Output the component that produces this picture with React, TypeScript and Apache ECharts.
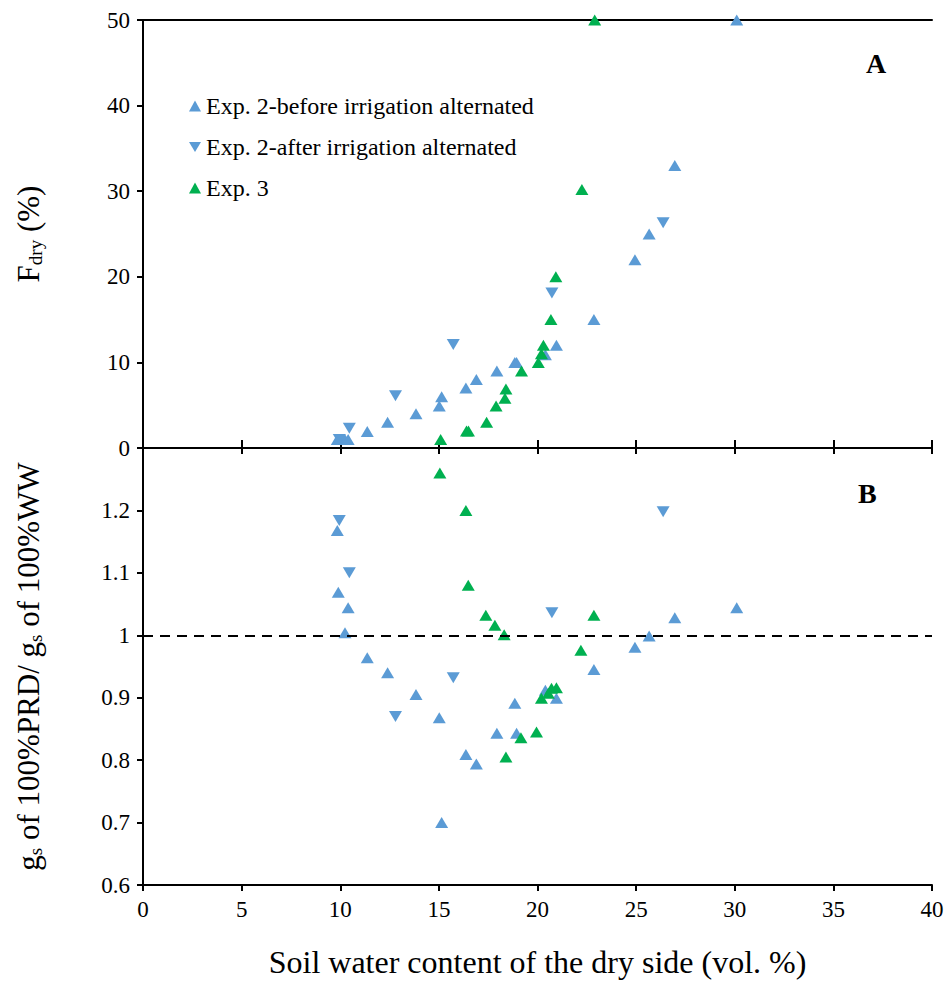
import React, { useEffect, useRef } from "react";
import * as echarts from "echarts";

// ---- Data ----
// Panel A: F_dry (%) vs soil water content of dry side
const beforeX = [9.85, 9.9, 10.24, 10.4, 11.37, 12.4, 13.84, 15.02, 15.14, 16.37, 16.9, 17.94, 18.85, 18.94, 20.4, 20.96, 22.86, 24.94, 25.66, 26.96, 30.1];
const beforeA = [1.0, 1.0, 1.0, 1.0, 1.94, 3.0, 4.0, 4.9, 6.0, 7.0, 8.0, 9.0, 10.0, 10.0, 10.9, 12.0, 15.0, 22.0, 25.0, 33.0, 50.0];
const beforeB = [1.168, 1.069, 1.004, 1.044, 0.964, 0.94, 0.905, 0.868, 0.7, 0.809, 0.794, 0.843, 0.891, 0.843, 0.912, 0.899, 0.945, 0.981, 0.999, 1.028, 1.044];

const afterX = [9.95, 10.46, 12.8, 15.73, 20.73, 26.37];
const afterA = [1.0, 2.3, 6.1, 12.1, 18.1, 26.3];
const afterB = [1.184, 1.1, 0.87, 0.932, 1.036, 1.198];

const exp3XA = [15.09, 16.4, 16.5, 17.42, 17.9, 18.35, 18.4, 19.19, 20.04, 20.2, 20.3, 20.68, 20.93, 22.25, 22.9];
const exp3A = [1.0, 2.0, 2.0, 3.0, 4.9, 5.8, 6.9, 9.0, 10.0, 11.0, 12.0, 15.0, 20.0, 30.2, 50.0];
const exp3XB = [15.05, 16.37, 16.49, 17.38, 17.84, 18.31, 18.4, 19.16, 19.95, 20.2, 20.55, 20.71, 20.96, 22.2, 22.86];
const exp3B = [1.26, 1.2, 1.08, 1.032, 1.016, 1.001, 0.805, 0.836, 0.845, 0.899, 0.907, 0.915, 0.916, 0.976, 1.032];

const seriesNames = ["Exp. 2-before irrigation alternated", "Exp. 2-after irrigation alternated", "Exp. 3"];
const refLineB = 1;

const BLUE = "#5B9BD5";
const GREEN = "#00B050";
const FONT = "Liberation Serif";
const DOWN = "path://M0,0L12,0L6,10Z";

const zip = (xs: number[], ys: number[]) => xs.map((x, i) => [x, ys[i]]);

export default function App() {
  const ref = useRef<HTMLDivElement>(null);
  useEffect(() => {
    if (!ref.current) return;
    const chart = echarts.init(ref.current, null, { renderer: "svg" });
    const axisLine = { show: true, lineStyle: { color: "#000", width: 2 } };
    const label = { color: "#000", fontFamily: FONT, fontSize: 23 };
    const titleRich = {
      m: { color: "#000", fontFamily: FONT, fontSize: 31, lineHeight: 36 },
      s: { color: "#000", fontFamily: FONT, fontSize: 19, lineHeight: 36, padding: [14, 0, 0, 0] },
    };
    const mk = (name: string, data: number[][], color: string, symbol: string, idx: number) => ({
      type: "scatter",
      name,
      xAxisIndex: idx,
      yAxisIndex: idx,
      data,
      symbol,
      symbolSize: [13, 11],
      clip: false,
      itemStyle: { color, opacity: 1 },
      emphasis: { disabled: true },
    });
    const option: any = {
      animation: false,
      backgroundColor: "#fff",
      grid: [
        { left: 143, right: 18, top: 20, height: 428 },
        { left: 143, right: 18, top: 448, height: 437 },
      ],
      legend: {
        orient: "vertical",
        left: 184,
        top: 89,
        itemWidth: 12,
        itemHeight: 11,
        itemGap: 17,
        textStyle: { color: "#000", fontFamily: FONT, fontSize: 24 },
        data: [
          { name: seriesNames[0], icon: "triangle", itemStyle: { color: BLUE } },
          { name: seriesNames[1], icon: DOWN, itemStyle: { color: BLUE } },
          { name: seriesNames[2], icon: "triangle", itemStyle: { color: GREEN } },
        ],
        selectedMode: false,
      },
      xAxis: [
        {
          type: "value", gridIndex: 0, min: 0, max: 40, interval: 5, position: "bottom",
          axisLine, axisTick: { show: true, inside: true, length: 8, lineStyle: { color: "#000", width: 2 } },
          axisLabel: { show: false }, splitLine: { show: false },
        },
        {
          type: "value", gridIndex: 1, min: 0, max: 40, interval: 5, position: "bottom",
          axisLine, axisTick: { show: true, inside: false, length: 6, lineStyle: { color: "#000", width: 2 } },
          axisLabel: { ...label, margin: 13 }, splitLine: { show: false },
          name: "Soil water content of the dry side (vol. %)",
          nameLocation: "middle", nameGap: 61,
          nameTextStyle: { color: "#000", fontFamily: FONT, fontSize: 32 },
        },
        {
          type: "value", gridIndex: 1, min: 0, max: 40, interval: 5, position: "top",
          axisLine, axisTick: { show: true, inside: true, length: 6, lineStyle: { color: "#000", width: 2 } },
          axisLabel: { show: false }, splitLine: { show: false },
        },
        {
          type: "value", gridIndex: 0, min: 0, max: 40, interval: 5, position: "top",
          axisLine, axisTick: { show: false }, axisLabel: { show: false }, splitLine: { show: false },
        },
      ],
      yAxis: [
        {
          type: "value", gridIndex: 0, min: 0, max: 50, interval: 10,
          axisLine, axisTick: { show: true, inside: false, length: 6, lineStyle: { color: "#000", width: 2 } },
          axisLabel: { ...label, margin: 13 }, splitLine: { show: false },
          name: "{m|F}{s|dry}{m| (%)}", nameLocation: "middle", nameRotate: 90, nameGap: 97,
          nameTextStyle: { color: "#000", fontFamily: FONT, fontSize: 31, rich: titleRich },
        },
        {
          type: "value", gridIndex: 1, min: 0.6, max: 1.3, interval: 0.1,
          axisLine, axisTick: { show: true, inside: false, length: 6, lineStyle: { color: "#000", width: 2 } },
          axisLabel: { ...label, margin: 13, formatter: (v: number) => (v > 1.25 ? "" : String(Math.round(v * 10) / 10)) },
          splitLine: { show: false },
          name: "{m|g}{s|s}{m| of 100%PRD/ g}{s|s}{m| of 100%WW}", nameLocation: "middle", nameRotate: 90, nameGap: 97,
          nameTextStyle: { color: "#000", fontFamily: FONT, fontSize: 31, rich: titleRich },
        },
      ],
      graphic: [
        { type: "text", left: 866, top: 49, style: { text: "A", fontFamily: FONT, fontSize: 28, fontWeight: "bold", fill: "#000" } },
        { type: "text", left: 858, top: 479, style: { text: "B", fontFamily: FONT, fontSize: 28, fontWeight: "bold", fill: "#000" } },
      ],
      series: [
        mk(seriesNames[0], zip(beforeX, beforeA), BLUE, "triangle", 0),
        mk(seriesNames[1], zip(afterX, afterA), BLUE, DOWN, 0),
        mk(seriesNames[2], zip(exp3XA, exp3A), GREEN, "triangle", 0),
        {
          ...mk(seriesNames[0], zip(beforeX, beforeB), BLUE, "triangle", 1),
          markLine: {
            silent: true, symbol: "none", label: { show: false },
            lineStyle: { color: "#000", width: 2, type: [10, 7] },
            data: [{ yAxis: refLineB }],
          },
        },
        mk(seriesNames[1], zip(afterX, afterB), BLUE, DOWN, 1),
        mk(seriesNames[2], zip(exp3XB, exp3B), GREEN, "triangle", 1),
      ],
    };
    chart.setOption(option);
    return () => chart.dispose();
  }, []);
  return <div ref={ref} style={{ position: "fixed", left: 0, top: 0, width: 950, height: 990, background: "#fff" }} />;
}
